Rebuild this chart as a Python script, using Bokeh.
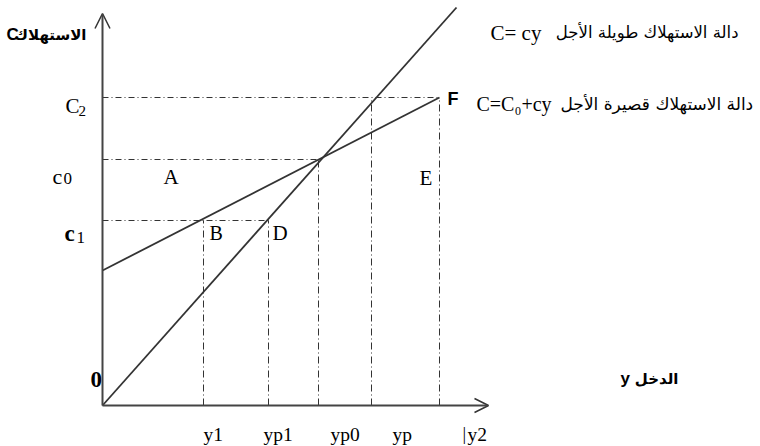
from bokeh.plotting import figure
from bokeh.models import Range1d, Arrow, OpenHead
from bokeh.embed import file_html
from bokeh.resources import INLINE
from bokeh.core.properties import value

# ---------------- data (income on x, consumption on y) ----------------
income_ticks = ["y1", "yp1", "yp0", "yp", "y2"]
income_vals = [10.1, 16.6, 21.6, 26.9, 33.7]
cons_ticks = ["c1", "c0", "C2"]
cons_vals = [18.5, 24.6, 30.8]
long_run_x = [0.0, 35.4]          # C = cy
long_run_y = [0.0, 39.8]
short_run_x = [0.0, 33.7]         # C = C0 + cy
short_run_y = [13.5, 30.8]
# guide lines
h_guide_y = [18.5, 24.6, 30.8]
h_guide_xend = [16.6, 21.6, 33.7]
v_guide_x = [10.1, 16.6, 21.6, 26.9, 33.7]
v_guide_top = [18.5, 18.5, 24.6, 30.8, 30.8]
x_axis_end = 38.6
y_axis_end = 39.2

# reference picture pixel -> data coords (for annotation placement)
def D(sx, sy):
    return (sx - 102) / 10.0, (405 - sy) / 10.0

W, H = 760, 446
x0, y1_ = D(0, 0)
x1, y0_ = D(W, H)

p = figure(width=W, height=H, output_backend="svg", toolbar_location=None,
           x_range=Range1d(x0, x1), y_range=Range1d(y0_, y1_),
           min_border=0, min_border_left=0, min_border_right=0,
           min_border_top=0, min_border_bottom=0)
p.axis.visible = False
p.grid.visible = False
p.outline_line_color = None
p.background_fill_color = "white"
p.border_fill_color = "white"

ink = "#333333"

# guide lines
p.segment(x0=[0] * 3, y0=h_guide_y, x1=h_guide_xend, y1=h_guide_y,
          line_color=ink, line_width=1, line_dash="6 3 1 3")
p.segment(x0=v_guide_x, y0=[0] * 5, x1=v_guide_x, y1=v_guide_top,
          line_color=ink, line_width=1, line_dash="7 3 1 3")

# consumption functions
p.line(long_run_x, long_run_y, line_color=ink, line_width=1.8)
p.line(short_run_x, short_run_y, line_color=ink, line_width=1.8)

# axes with open arrow heads
p.add_layout(Arrow(end=OpenHead(size=15, line_color=ink, line_width=1.5),
                   x_start=0, y_start=0, x_end=0, y_end=y_axis_end,
                   line_color="#444444", line_width=2))
p.add_layout(Arrow(end=OpenHead(size=14, line_color=ink, line_width=1.5),
                   x_start=0, y_start=0, x_end=x_axis_end, y_end=0,
                   line_color="#444444", line_width=2))

serif = value("Liberation Serif")
sans = value("Liberation Sans")
arab = value("DejaVu Sans")

def txt(sx, sy, s, font, size, align="left", style="normal", color="black"):
    x, y = D(sx, sy)
    p.text(x=[x], y=[y], text=[s], text_font=font, text_font_size=f"{size}px",
           text_align=align, text_baseline="alphabetic",
           text_font_style=style, text_color=color)

# income tick labels
lab_left = [203, 263, 330, 392, 467]
for name, sx in zip(income_ticks, lab_left):
    txt(sx, 434, name, serif, 19.5)
txt(462, 433, "|", serif, 18)

# consumption tick labels
txt(65, 105, "C", serif, 21)
txt(78, 110, "2", serif, 15)
txt(52, 176, "c", serif, 22)
txt(63, 178, "0", serif, 17)
txt(64, 233, "c", serif, 23, style="bold")
txt(76, 237, "1", serif, 17)
txt(90, 379, "0", serif, 23, style="bold")

# point letters
txt(163, 176, "A", serif, 21)
txt(209, 232, "B", serif, 20)
txt(272, 232, "D", serif, 21)
txt(419, 177, "E", serif, 21)
txt(447, 98, "F", sans, 18, style="bold")

# axis titles
txt(6, 34, "C", sans, 17, style="bold")
txt(86, 34, "الاستهلاك", arab, 15, align="right", style="bold")
txt(620, 378, "y", sans, 17, style="bold")
txt(678, 378, "الدخل", arab, 15, align="right", style="bold")

# function legends
txt(490, 32, "C= cy", serif, 21)
txt(738, 32, "دالة الاستهلاك طويلة الأجل", arab, 16.5, align="right")
txt(476, 103, "C=C₀+cy", serif, 20)
txt(560, 103, "دالة الاستهلاك قصيرة الأجل", arab, 17)

open("out.html", "w").write(file_html(p, INLINE))
